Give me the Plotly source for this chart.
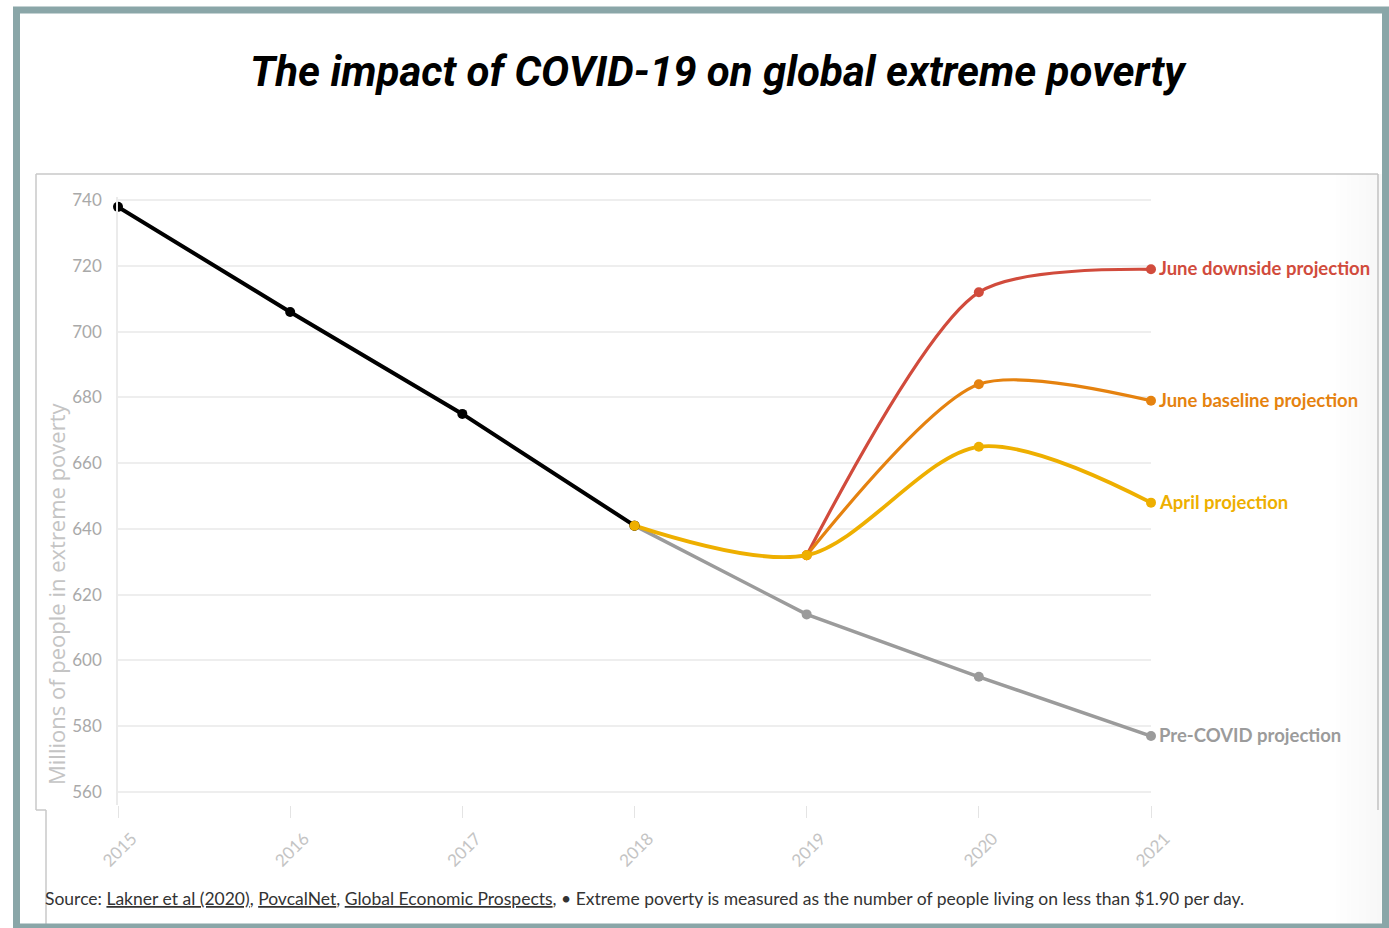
import plotly.graph_objects as go

# ---- data (millions of people in extreme poverty) ----
hist_years = [2015, 2016, 2017, 2018]
hist_values = [738, 706, 675, 641]

pre_years = [2018, 2019, 2020, 2021]
pre_values = [641, 614, 595, 577]

april_years = [2018, 2019, 2020, 2021]
april_values = [641, 632, 665, 648]

june_base_years = [2019, 2020, 2021]
june_base_values = [632, 684, 679]

june_down_years = [2019, 2020, 2021]
june_down_values = [632, 712, 719]

year_ticks = [2015, 2016, 2017, 2018, 2019, 2020, 2021]
value_ticks = [560, 580, 600, 620, 640, 660, 680, 700, 720, 740]

# ---- page geometry ----
W, H = 1389, 928
L, R, T, B = 118, 1151, 197, 805   # plot area in pixels


def px(x):
    return (x - L) / (R - L)


def py(y):
    return (B - y) / (B - T)


BODY = "Lato, Source Sans Pro, sans-serif"

RED = "#D14B3C"
ORANGE = "#E5820F"
YELLOW = "#EEAF00"
GRAY = "#9B9B9B"
BLACK = "#000000"

fig = go.Figure()


def add_series(xs, ys, color, width, shape="linear", smoothing=1.0):
    fig.add_trace(go.Scatter(
        x=xs, y=ys, mode="lines+markers",
        line=dict(color=color, width=width, shape=shape, smoothing=smoothing),
        marker=dict(color=color, size=10),
        cliponaxis=False, hoverinfo="x+y", showlegend=False,
    ))


add_series(pre_years, pre_values, GRAY, 3.5)
add_series(june_down_years, june_down_values, RED, 3.2, "spline", 0.75)
add_series(june_base_years, june_base_values, ORANGE, 3.2, "spline", 0.75)
add_series(april_years, april_values, YELLOW, 3.8, "spline", 0.9)
add_series(hist_years, hist_values, BLACK, 4)
# 2018 point sits on top of the black line in the April colour
fig.add_trace(go.Scatter(
    x=[april_years[0]], y=[april_values[0]], mode="markers",
    marker=dict(color=YELLOW, size=10), cliponaxis=False,
    hoverinfo="skip", showlegend=False,
))

# series labels at the right end of each line
end_labels = [
    ("June downside projection", june_down_years[-1], june_down_values[-1], RED),
    ("June baseline projection", june_base_years[-1], june_base_values[-1], ORANGE),
    ("April projection", april_years[-1], april_values[-1], YELLOW),
    ("Pre-COVID projection", pre_years[-1], pre_values[-1], GRAY),
]
annotations = []
for text, x, y, c in end_labels:
    annotations.append(dict(
        x=x, y=y, xref="x", yref="y", text="<b>%s</b>" % text,
        showarrow=False, xanchor="left", yanchor="middle", xshift=6, yshift=1,
        font=dict(family=BODY, size=18.5, color=c),
    ))

# title
annotations.append(dict(
    x=px(718), y=py(72), xref="paper", yref="paper",
    text="<b><i>The impact of COVID-19 on global extreme poverty</i></b>",
    showarrow=False, xanchor="center", yanchor="middle",
    font=dict(family="Roboto, Liberation Sans, sans-serif", size=42, color="#000000"),
))

# y axis title
annotations.append(dict(
    x=px(56), y=py(594), xref="paper", yref="paper",
    text="Millions of people in extreme poverty", textangle=-90,
    showarrow=False, xanchor="center", yanchor="middle",
    font=dict(family="Open Sans, sans-serif", size=22, color="#C4C4C4"),
))

# source note
annotations.append(dict(
    x=px(43), y=py(898), xref="paper", yref="paper",
    text=("Source: <u>Lakner et al (2020)</u>, <u>PovcalNet</u>, "
          "<u>Global Economic Prospects</u>, \u2022 Extreme poverty is measured as "
          "the number of people living on less than $1.90 per day."),
    showarrow=False, xanchor="left", yanchor="middle",
    font=dict(family=BODY, size=17.5, color="#333333"),
))

shapes = []
FRAME = "#C9C9C9"
# inner chart frame
for x0, y0, x1, y1 in [(36, 174, 1378, 174), (36, 174, 36, 810), (36, 810, 46, 810),
                       (46, 810, 46, 925), (1378, 174, 1378, 810)]:
    shapes.append(dict(type="line", xref="paper", yref="paper",
                       x0=px(x0), y0=py(y0), x1=px(x1), y1=py(y1),
                       line=dict(color=FRAME, width=1.5), layer="below"))
# soft shading along the right edge
steps = 12
for i in range(steps):
    xa = 1336 + i * 3.8
    shapes.append(dict(type="rect", xref="paper", yref="paper",
                       x0=px(xa), x1=px(xa + 3.8), y0=py(174), y1=py(925),
                       fillcolor="rgba(120,120,120,%.3f)" % (0.006 + 0.005 * i),
                       line=dict(width=0), layer="below"))
# outer border
shapes.append(dict(type="rect", xref="paper", yref="paper",
                   x0=px(16.5), x1=px(1385.5), y0=py(10), y1=py(927),
                   line=dict(color="#8AA6A8", width=7), fillcolor="rgba(0,0,0,0)",
                   layer="above"))

fig.update_layout(
    width=W, height=H,
    margin=dict(l=L, r=W - R, t=T, b=H - B, pad=0),
    paper_bgcolor="white", plot_bgcolor="white",
    annotations=annotations, shapes=shapes,
    xaxis=dict(
        range=[2015, 2021], tickmode="array", tickvals=year_ticks,
        ticktext=[str(v) for v in year_ticks], tickangle=-45,
        showgrid=False, zeroline=False, showline=False,
        ticks="outside", ticklen=12, tickcolor="#E4E4E4", tickwidth=1,
        ticklabelshift=14, ticklabelstandoff=4,
        tickfont=dict(family=BODY, size=17, color="#C4C4C4"),
    ),
    yaxis=dict(
        range=[556, 741], tickmode="array", tickvals=value_ticks,
        showgrid=True, gridcolor="#EEEEEE", gridwidth=2, zeroline=False,
        showline=True, linecolor="#EBEBEB", linewidth=1.5,
        ticks="", ticklabelstandoff=11,
        tickfont=dict(family=BODY, size=17, color="#A9A9A9"),
    ),
)

fig.write_html("out.html")
